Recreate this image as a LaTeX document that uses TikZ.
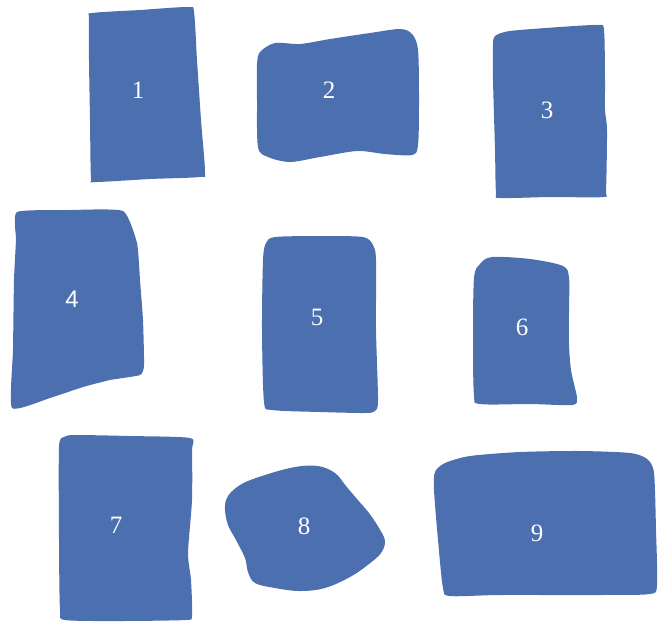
\documentclass[tikz,border=0pt]{standalone}
\usepackage{fontspec}
\usepackage{xcolor}
\newfontfamily\numserif{Liberation Serif}
\newfontfamily\numsans{Liberation Sans}
\definecolor{blobblue}{RGB}{76,111,175}
\usepackage{tikz}
\tikzset{blob/.style={fill=blobblue},
  numlbl/.style={text=white,inner sep=0pt,font=\numserif\fontsize{25}{30}\selectfont}}

\begin{document}
\begin{tikzpicture}[x=1pt,y=-1pt]
\useasboundingbox (0,0) rectangle (660,625);
% ---- gorny rzad ----
\fill[blob] plot[smooth cycle,tension=0.45] coordinates {(92,13) (140,10) (188,7) (194,12) (197,60) (201,120) (205,172) (200,177) (150,179) (95,182) (91,178) (90,120) (89,60) (89,18)};
\fill[blob] plot[smooth cycle,tension=0.5] coordinates {(260,52) (275,43) (300,44) (330,39) (370,33) (400,29) (412,34) (418,50) (419,100) (418,145) (412,155) (385,154) (357,151) (320,157) (290,162) (268,157) (258,147) (257,100) (257,65)};
\fill[blob] plot[smooth cycle,tension=0.45] coordinates {(495,36) (510,31) (560,27) (598,25) (604,30) (605,80) (605,110) (607,130) (606,190) (603,197) (550,197) (500,198) (496,193) (495,150) (493,80) (493,45)};
% ---- srodkowy rzad ----
\fill[blob] plot[smooth cycle,tension=0.3] coordinates {(17,212) (70,210) (123,211) (137,243) (140,280) (143,320) (144,365) (140,375) (110,380) (83,387) (50,398) (12,408) (13,350) (14,280) (16,240)};
\fill[blob] plot[smooth cycle,tension=0.45] coordinates {(266,243) (275,237) (320,236) (363,237) (373,245) (376,260) (376,330) (378,400) (375,411) (365,413) (320,412) (272,410) (264,402) (262,330) (263,260)};
\fill[blob] plot[smooth cycle,tension=0.5] coordinates {(474,278) (480,264) (492,257) (530,259) (563,266) (569,278) (569,310) (569,345) (571,370) (575,388) (577,399) (572,405) (530,404) (480,404) (474,395) (473,340)};
% ---- dolny rzad ----
\fill[blob] plot[smooth cycle,tension=0.4] coordinates {(59,447) (64,437) (75,435) (130,436) (190,438) (192,450) (192,500) (188,553) (191,580) (192,616) (185,620) (120,621) (65,620) (60,610) (59,540)};
\fill[blob] plot[smooth cycle,tension=0.6] coordinates {(226,500) (240,485) (265,475) (295,467) (318,466) (335,473) (346,486) (357,499) (369,513) (379,528) (385,541) (381,553) (369,564) (350,577) (325,588) (300,591) (275,588) (255,583) (248,572) (245,558) (236,540) (227,522)};
\fill[blob] plot[smooth cycle,tension=0.45] coordinates {(435,472) (445,463) (470,456) (520,452) (580,451) (630,453) (647,459) (654,473) (656,530) (657,585) (650,594) (600,595) (500,595) (450,596) (443,588) (438,540) (434,490)};
% numery
\foreach \n/\x/\y in {1/138/90,2/329/90,3/547/110,5/317/317,6/522/327,7/116/525,8/304/526,9/537/533}
  \node[numlbl] (num\n) at (\x,\y) {\n};
\node[numlbl,font=\numsans\fontsize{24}{30}\selectfont] (num4) at (72,299) {4};
\end{tikzpicture}
\end{document}
